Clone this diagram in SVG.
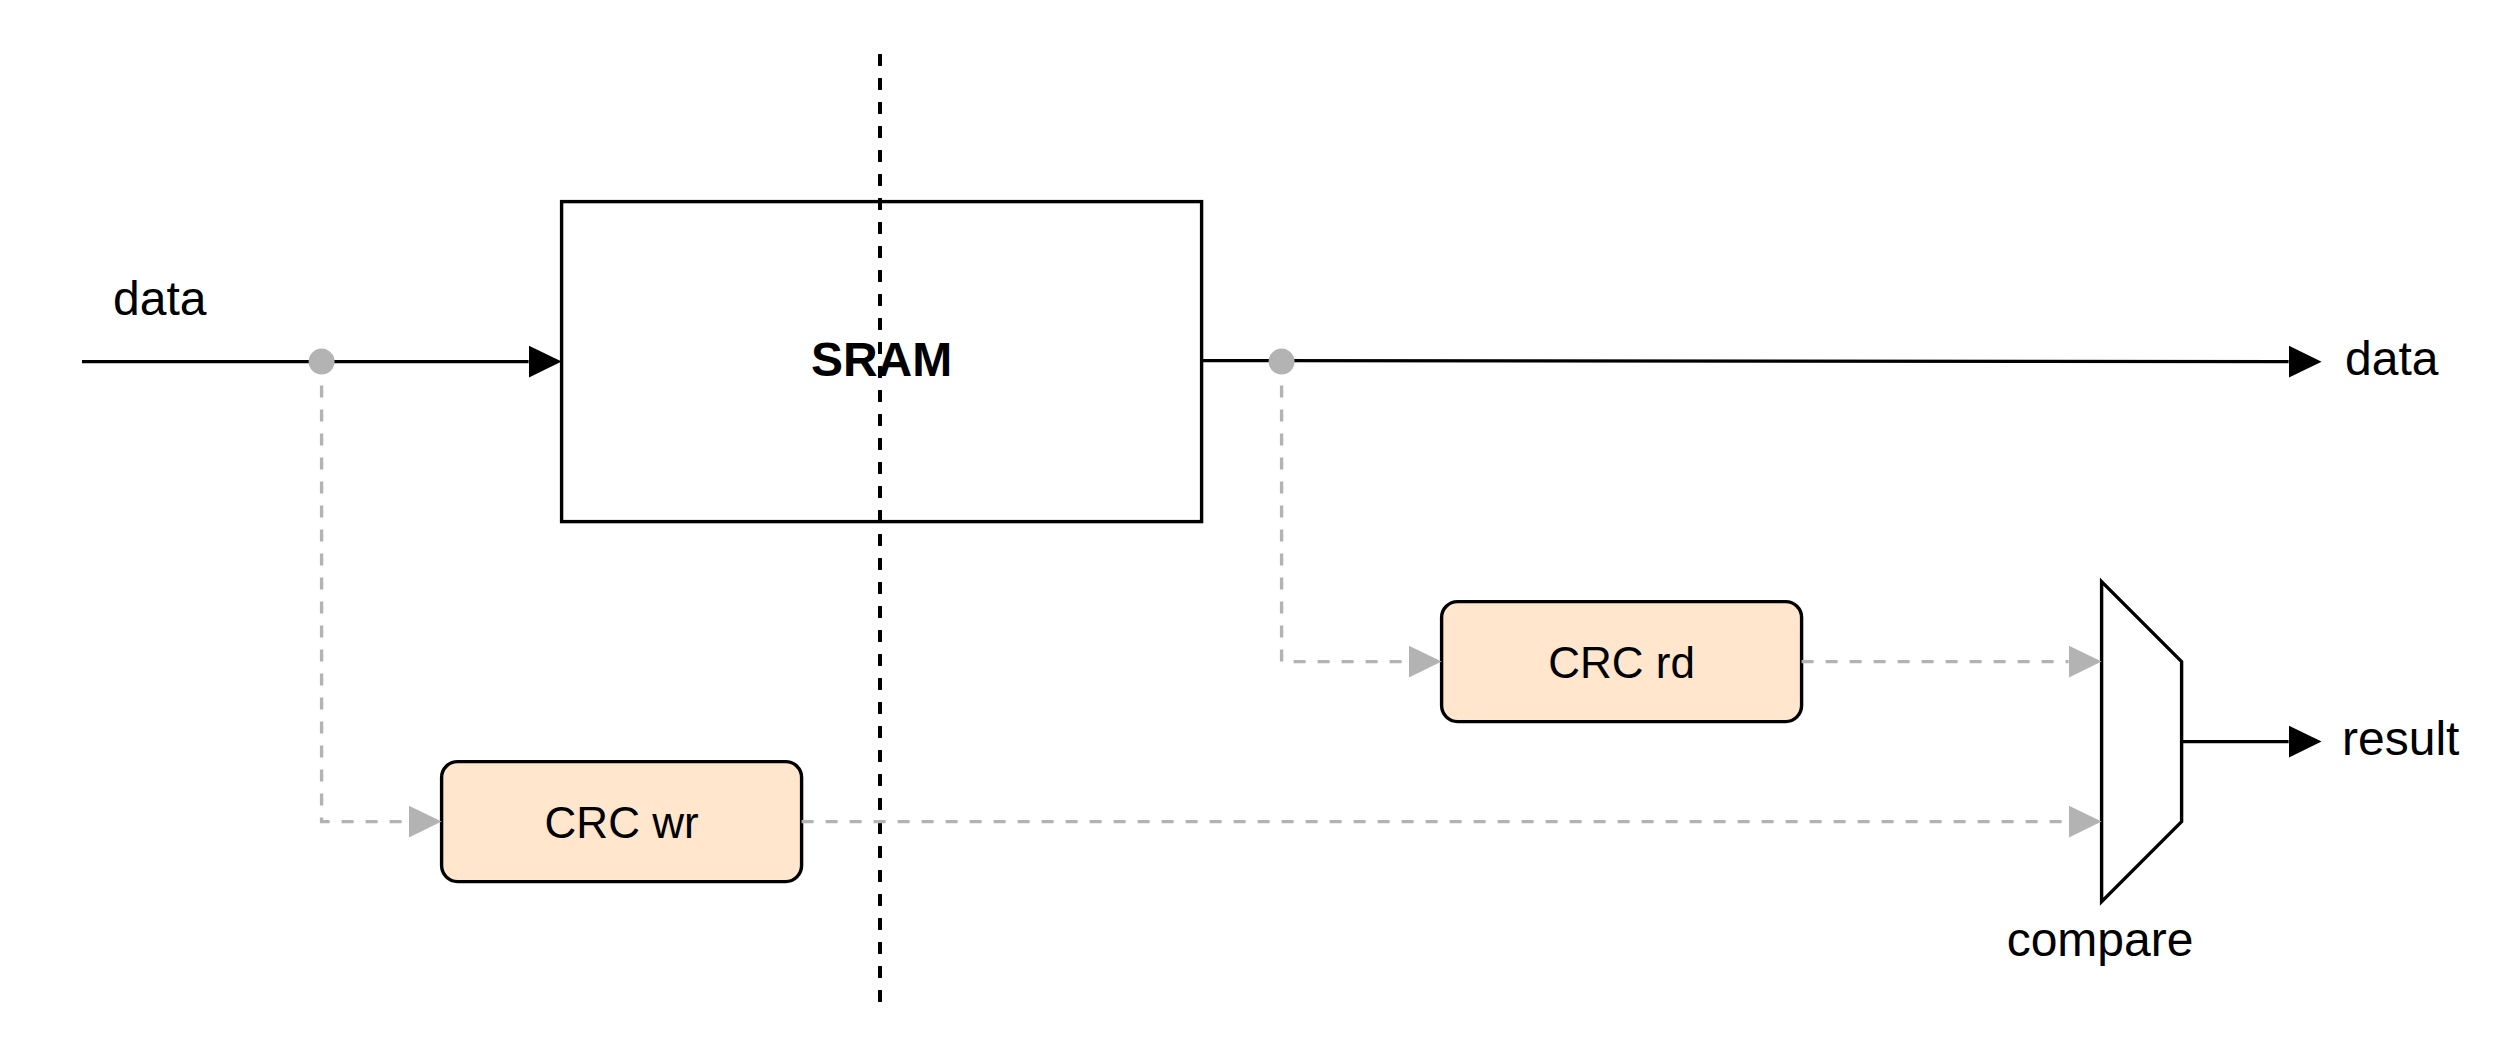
<svg xmlns="http://www.w3.org/2000/svg" width="2520" height="1048" viewBox="0 0 2520 1048">
  <defs>
    <style>
      text { font-family: "Liberation Sans", Arial, sans-serif; font-size: 48px; fill: #000; }
      .bold { font-weight: bold; }
      .small { font-size: 44px; }
      .box { fill: #FFFFFF; stroke: #000; stroke-width: 3.4; }
      .crc { fill: #FFE6CC; stroke: #000; stroke-width: 3.4; }
      .wire { fill: none; stroke: #000; stroke-width: 3.4; }
      .tap { fill: none; stroke: #B3B3B3; stroke-width: 3.4; stroke-dasharray: 12 12; }
      .cut { fill: none; stroke: #000; stroke-width: 4; stroke-dasharray: 12 12; }
      .dot { fill: #B3B3B3; }
    </style>
    <marker id="arrowBlack" markerUnits="userSpaceOnUse" markerWidth="34" markerHeight="34" refX="0" refY="16" orient="auto" viewBox="0 0 34 32">
      <path d="M0,0 L33,16 L0,32 Z" fill="#000"/>
    </marker>
    <marker id="arrowGrey" markerUnits="userSpaceOnUse" markerWidth="34" markerHeight="34" refX="0" refY="16" orient="auto" viewBox="0 0 34 32">
      <path d="M0,0 L33,16 L0,32 Z" fill="#B3B3B3"/>
    </marker>
  </defs>

  <rect x="0" y="0" width="2520" height="1048" fill="#FFFFFF"/>

  <g id="sram">
    <rect class="box" x="561.6" y="201.6" width="640" height="320"/>
    <text class="bold" x="881.6" y="375.6" text-anchor="middle">SRAM</text>
  </g>

  <g id="crc-wr">
    <rect class="crc" x="441.6" y="761.6" width="360" height="120" rx="16" ry="16"/>
    <text class="small" x="621.6" y="837.6" text-anchor="middle">CRC wr</text>
  </g>

  <g id="crc-rd">
    <rect class="crc" x="1441.6" y="601.6" width="360" height="120" rx="16" ry="16"/>
    <text class="small" x="1621.6" y="677.6" text-anchor="middle">CRC rd</text>
  </g>

  <g id="compare">
    <path class="wire" d="M2101.6,581.6 L2181.6,661.6 L2181.6,821.6 L2101.6,901.6 Z" fill="#FFFFFF"/>
    <text x="2100" y="956" text-anchor="middle">compare</text>
  </g>

  <g id="labels">
    <text x="113" y="315">data</text>
    <text x="2345" y="375">data</text>
    <text x="2342" y="755">result</text>
  </g>

  <g id="connectors">
    <line class="cut" x1="880" y1="54" x2="880" y2="1002"/>
    <path class="tap" d="M321.6,361.6 V821.6 H408.6" marker-end="url(#arrowGrey)"/>
    <path class="tap" d="M801.6,821.6 H2068.6" marker-end="url(#arrowGrey)"/>
    <path class="tap" d="M1281.6,361.6 V661.6 H1408.6" marker-end="url(#arrowGrey)"/>
    <path class="tap" d="M1801.6,661.6 H2068.6" marker-end="url(#arrowGrey)"/>
    <line class="wire" x1="82" y1="361.6" x2="528.6" y2="361.6" marker-end="url(#arrowBlack)"/>
    <line class="wire" x1="1201.6" y1="360.6" x2="2288.6" y2="361.6" marker-end="url(#arrowBlack)"/>
    <line class="wire" x1="2181.6" y1="741.6" x2="2288.6" y2="741.6" marker-end="url(#arrowBlack)"/>
    <circle class="dot" cx="321.6" cy="361.6" r="13"/>
    <circle class="dot" cx="1281.6" cy="361.6" r="13"/>
  </g>
</svg>
